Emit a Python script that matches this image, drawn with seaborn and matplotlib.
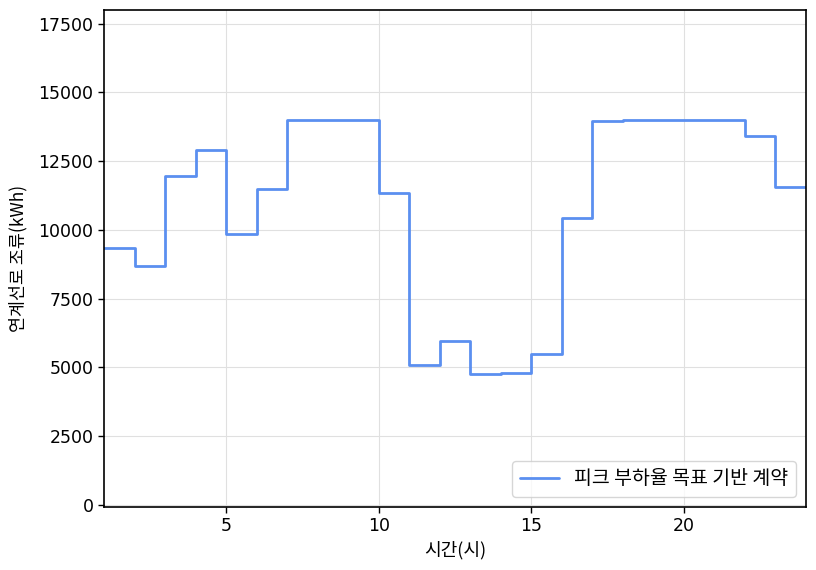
import matplotlib
matplotlib.use("Agg")
import matplotlib.pyplot as plt
import seaborn as sns
import pandas as pd

hours = list(range(1, 25))
flow = [9350, 8700, 11950, 12900, 9850, 11500, 14000, 14000, 14000, 11350,
        5100, 5950, 4770, 4790, 5480, 10450, 13970, 14000, 14000, 14000,
        14000, 13400, 11550, 11550]
series_label = "피크 부하율 목표 기반 계약"
x_label = "시간(시)"
y_label = "연계선로 조류(kWh)"

sns.set_theme(style="whitegrid")
plt.rcParams['font.family'] = ['DejaVu Sans', 'Noto Sans CJK KR']
plt.rcParams['axes.unicode_minus'] = False
plt.rcParams['text.color'] = 'black'
plt.rcParams['axes.labelcolor'] = 'black'
plt.rcParams['xtick.color'] = 'black'
plt.rcParams['ytick.color'] = 'black'

df = pd.DataFrame({"hour": hours, "flow": flow})

fig = plt.figure(figsize=(8.16, 5.7), dpi=100)
ax = fig.add_axes([104/816, 1-507/570, (806-104)/816, (507-10)/570])
sns.lineplot(data=df, x="hour", y="flow", ax=ax, drawstyle="steps-post",
             color="#5B8FF0", linewidth=2, label=series_label)

ax.set_xlim(1, 24)
ax.set_ylim(-80, 18000)
ax.set_xticks([5, 10, 15, 20])
ax.set_yticks([0, 2500, 5000, 7500, 10000, 12500, 15000, 17500])
kfont = ['Noto Sans CJK KR', 'DejaVu Sans']
ax.set_xlabel(x_label, fontsize=13, family=kfont)
ax.set_ylabel(y_label, fontsize=12.5, family=kfont, labelpad=8)
ax.tick_params(axis='both', labelsize=12.5, length=4, width=1,
               colors='black', bottom=True, left=True)
ax.grid(True, color='#e0e0e0', linewidth=0.8)
for s in ax.spines.values():
    s.set_color('black')
    s.set_linewidth(1.2)
ax.legend(loc='lower right', frameon=True, prop={'family': kfont, 'size': 14})

fig.savefig("out.png", dpi=100)
